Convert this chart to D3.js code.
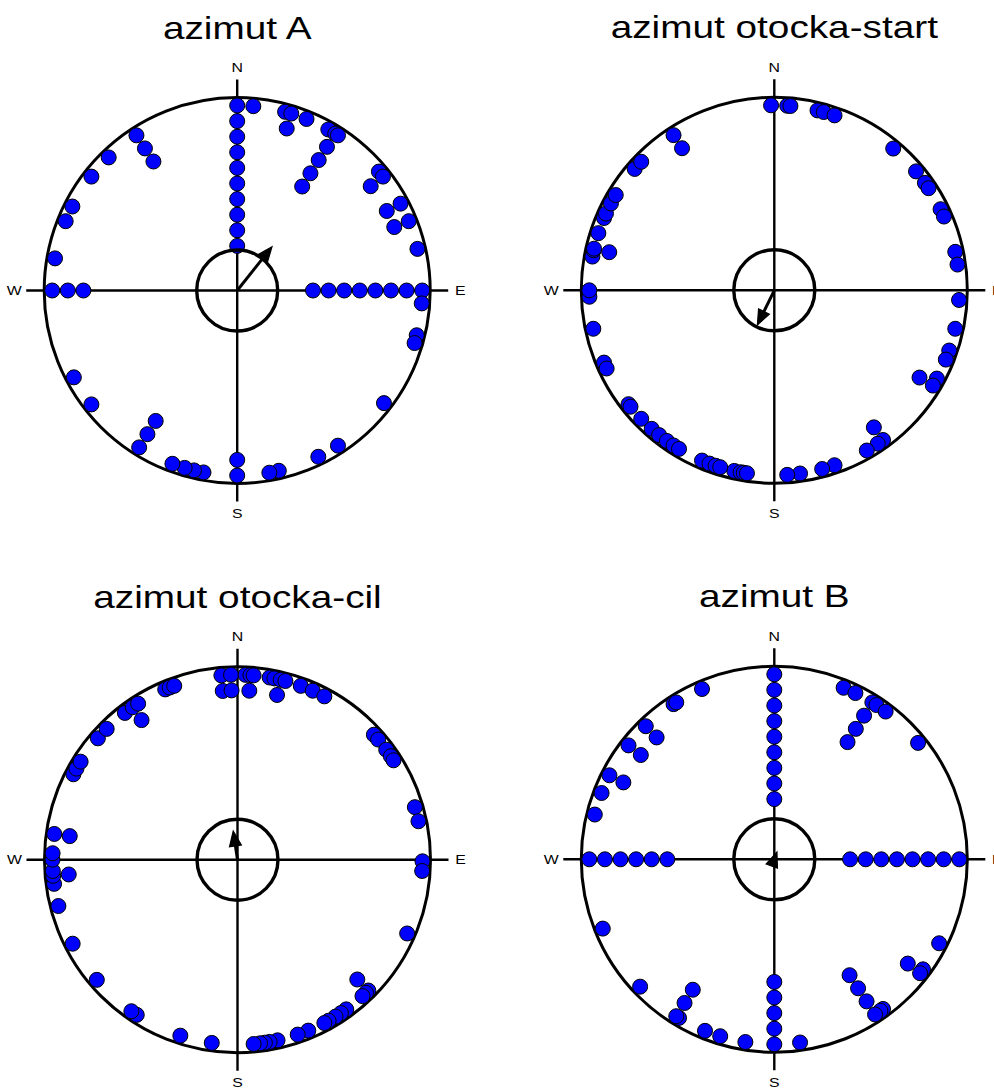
<!DOCTYPE html>
<html><head><meta charset="utf-8">
<script src="https://cdn.jsdelivr.net/npm/d3@7"></script>
<style>body{margin:0;background:#fff}svg{display:block}</style>
</head><body>
<svg id="chart" width="994" height="1090"></svg>
<script>
// ---- data (azimuths in degrees, clockwise from north; repeated values stack inward) ----
const titles = ["azimut A", "azimut otocka-start", "azimut otocka-cil", "azimut B"];
const compassLabels = ["N", "E", "S", "W"];
const compassAngles = [0, 90, 180, 270];

const azimutA = [0,0,0,0,0,0,0,0,0,0, 5, 15, 17,17, 22, 29.5, 32,32,32,32,32, 33,
  50, 52,52, 62,62, 68,68, 77, 90,90,90,90,90,90,90,90, 94, 104, 106.5, 127.5,
  147, 154, 167, 170, 180,180, 190.5, 193.5, 196.5, 200.5, 212,212,212, 232, 242,
  270,270,270, 280, 292, 297, 308, 316, 327,327,327];

const azimutStart = [359, 4, 5, 13.5, 15.5, 19, 40, 50, 54.5, 56.5, 64, 66.5, 78, 82,
  93, 102, 109, 112, 118.5, 121,121, 144,144, 146, 150, 161, 165, 172, 176,
  192.5, 190.5, 189.5, 188.5, 203, 200.5, 198.5, 197, 226, 221.5, 218.5, 215.5, 213, 211,
  232, 231, 247, 245, 258, 268, 270, 280.5, 282.5, 283,283, 288, 293, 294.5, 298, 301,
  311, 314, 327,327];

const azimutCil = [355,355, 358,358, 2.5, 4,4, 5, 10, 11.5, 13.5,13.5, 15, 20, 24, 28,
  47.5, 49.5, 53.5, 56, 57.5, 73.5, 78, 90.5, 93.5, 113.5, 135,135, 136, 137.5,
  144, 146, 148, 150.5, 152, 157.5, 161, 167.5, 170, 171.5, 173, 175, 188, 198,
  213, 215, 229.5, 243, 255.5, 262.5, 265,265, 266.5, 270, 272, 278,278,
  297.5, 299.5, 302, 311, 315, 322.5, 325.5,325.5, 327.5, 337, 338.5, 340];

const azimutB = [0,0,0,0,0,0,0,0,0, 22, 26, 32,32,32,32, 33.5, 37, 51,
  90,90,90,90,90,90,90,90, 117, 126.5, 128,128, 144, 145, 147,147,147,147,
  172, 180,180,180,180,180, 189, 197, 202, 211, 212,212,212, 226.5, 248,
  270,270,270,270,270,270, 284, 291, 297,297, 308,308, 316,316, 327, 328, 337];

const seriesList = [azimutA, azimutStart, azimutCil, azimutB];
// mean direction (deg) and mean resultant length read from the arrows
const meanDirection = [38.5, 206, 351.5, 20];
const meanLength = [0.29, 0.2, 0.15, 0.04];

// ---- layout / style ----
const centers = [[237.2, 290.5], [774.3, 290.3], [237.5, 859.7], [774.3, 859.3]];
const R = 193;
const innerR = 40.5;
const dotR = 7.5;
const textStretch = 1.27;

const svg = d3.select("#chart");
const angle = d3.scaleLinear().domain([0, 360]).range([0, 2 * Math.PI]);
const stackRadius = d3.scaleLinear().domain([0, 1]).range([R - 8, R - 8 - 15.6]);
const lenScale = d3.scaleLinear().domain([0, 1]).range([0, R]);

function pt(cx, cy, deg, r) {
  const a = angle(deg);
  return [cx + r * Math.sin(a), cy - r * Math.cos(a)];
}

seriesList.forEach((data, i) => {
  const [cx, cy] = centers[i];
  const g = svg.append("g");

  // title
  g.append("text")
    .attr("transform", `translate(${cx},${cy - 252}) scale(${textStretch},1)`)
    .attr("text-anchor", "middle")
    .attr("font-family", "'Liberation Sans', Arial, Helvetica, sans-serif")
    .attr("font-size", 30.5)
    .attr("fill", "#000")
    .text(titles[i]);

  // outer circle
  g.append("circle").attr("cx", cx).attr("cy", cy).attr("r", R)
    .attr("fill", "none").attr("stroke", "#000").attr("stroke-width", 3);

  // cross axes
  g.append("line").attr("x1", cx - 211).attr("x2", cx + 211).attr("y1", cy).attr("y2", cy)
    .attr("stroke", "#000").attr("stroke-width", 2.4);
  g.append("line").attr("x1", cx).attr("x2", cx).attr("y1", cy - 211).attr("y2", cy + 211)
    .attr("stroke", "#000").attr("stroke-width", 2.4);

  // compass labels
  compassLabels.forEach((lab, k) => {
    const [lx, ly] = pt(cx, cy, compassAngles[k], 223);
    g.append("text")
      .attr("transform", `translate(${lx},${ly + 4.5}) scale(${textStretch},1)`)
      .attr("text-anchor", "middle")
      .attr("font-family", "'Liberation Sans', Arial, Helvetica, sans-serif")
      .attr("font-size", 12.5)
      .attr("fill", "#000")
      .text(lab);
  });

  // stacked points
  const counts = new Map();
  const pts = data.map(v => {
    const lvl = counts.get(v) || 0;
    counts.set(v, lvl + 1);
    const [x, y] = pt(cx, cy, v, stackRadius(lvl));
    return {x, y};
  });
  g.selectAll("circle.dot").data(pts).enter().append("circle")
    .attr("class", "dot")
    .attr("cx", d => d.x).attr("cy", d => d.y).attr("r", dotR)
    .attr("fill", "#0000ff").attr("stroke", "#000").attr("stroke-width", 1);

  // inner circle
  g.append("circle").attr("cx", cx).attr("cy", cy).attr("r", innerR)
    .attr("fill", "none").attr("stroke", "#000").attr("stroke-width", 3.4);

  // mean arrow
  const len = lenScale(meanLength[i]);
  const [tx, ty] = pt(cx, cy, meanDirection[i], len);
  const a = angle(meanDirection[i]);
  const ux = Math.sin(a), uy = -Math.cos(a);
  const HL = 15, HW = 6;
  const bx = tx - HL * ux, by = ty - HL * uy;
  const shaftEnd = len > HL ? [bx + 2 * ux, by + 2 * uy] : [cx, cy];
  g.append("line").attr("x1", cx).attr("y1", cy).attr("x2", shaftEnd[0]).attr("y2", shaftEnd[1])
    .attr("stroke", "#000").attr("stroke-width", 3);
  g.append("path")
    .attr("d", d3.line()([[tx, ty], [bx - HW * uy, by + HW * ux], [bx + HW * uy, by - HW * ux]]) + "Z")
    .attr("fill", "#000").attr("stroke", "#000").attr("stroke-width", 1.2);
});
</script>
</body></html>
